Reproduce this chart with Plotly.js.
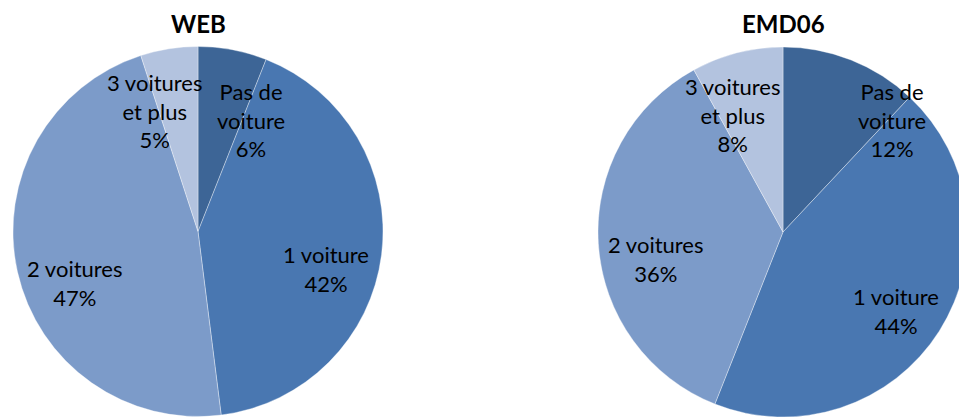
<!DOCTYPE html>
<html>
<head>
<meta charset="utf-8">
<script src="https://cdn.plot.ly/plotly-3.0.1.min.js"></script>
<style>
html,body{margin:0;padding:0;overflow:hidden;background:#fff;}
#chart{width:980px;height:418px;}
</style>
</head>
<body>
<div id="chart"></div>
<script>
// Data
var categories = ["Pas de<br>voiture", "1 voiture", "2 voitures", "3 voitures<br>et plus"];
var webValues = [6, 42, 47, 5];
var emdValues = [12, 44, 36, 8];
var chartTitles = ["WEB", "EMD06"];

// Styling / layout
var colors = ["#3D6596", "#4977B1", "#7C9BC9", "#B3C3DF"];
var W = 980, H = 418;
var pies = [
  {cx: 198, cy: 231.5, r: 185, values: webValues, title: chartTitles[0],
   shifts: [[29,-16],[0,-21],[3,-23],[-23,-7]]},
  {cx: 783, cy: 232, r: 185, values: emdValues, title: chartTitles[1],
   shifts: [[61,-8],[4,-10],[2,-19],[-18,-8]]}
];
var labelFrac = 0.7;
var font = "Lato, 'Open Sans', sans-serif";

var traces = [];
var annotations = [];
pies.forEach(function(p){
  traces.push({
    type: "pie",
    labels: categories,
    values: p.values,
    sort: false,
    direction: "clockwise",
    rotation: 0,
    textinfo: "none",
    hoverinfo: "label+percent",
    marker: {colors: colors, line: {color: "rgba(255,255,255,0.6)", width: 0.6}},
    domain: {x: [(p.cx - p.r)/W, (p.cx + p.r)/W], y: [(H - p.cy - p.r)/H, (H - p.cy + p.r)/H]},
    showlegend: false
  });
  var total = p.values.reduce(function(a,b){return a+b;}, 0);
  var cum = 0;
  p.values.forEach(function(v, i){
    var mid = (cum + v/2) / total * 2 * Math.PI;
    cum += v;
    var px = p.cx + labelFrac * p.r * Math.sin(mid);
    var py = p.cy - labelFrac * p.r * Math.cos(mid);
    annotations.push({
      xref: "paper", yref: "paper",
      x: px / W, y: 1 - py / H,
      xanchor: "center", yanchor: "middle",
      xshift: p.shifts[i][0], yshift: p.shifts[i][1],
      text: categories[i] + "<br>" + Math.round(v / total * 100) + "%",
      showarrow: false,
      align: "center",
      font: {family: font, size: 22, color: "#000"}
    });
  });
  annotations.push({
    xref: "paper", yref: "paper",
    x: p.cx / W, y: 1 - 24 / H,
    xanchor: "center", yanchor: "middle",
    text: "<b>" + p.title + "</b>",
    showarrow: false,
    font: {family: font, size: 24, color: "#000"}
  });
});

Plotly.newPlot("chart", traces, {
  width: W, height: H,
  margin: {l: 0, r: 0, t: 0, b: 0},
  paper_bgcolor: "#fff",
  annotations: annotations
}, {displayModeBar: false, staticPlot: true});
</script>
</body>
</html>
